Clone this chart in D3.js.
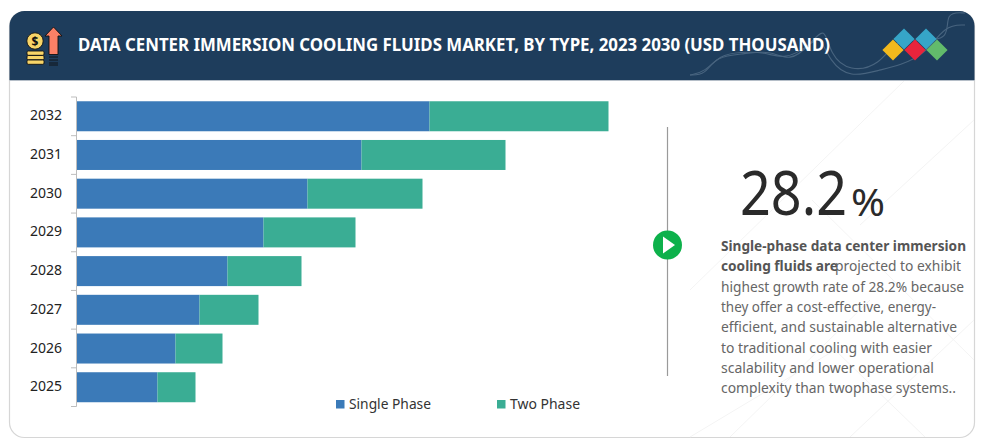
<!DOCTYPE html>
<html>
<head>
<meta charset="utf-8">
<script src="https://cdn.jsdelivr.net/npm/d3@7"></script>
<style>
  html, body { margin: 0; padding: 0; background: #fff; }
  text { font-family: "Noto Sans", sans-serif; }
</style>
</head>
<body>
<div id="chart"></div>
<script>
const years = ["2032", "2031", "2030", "2029", "2028", "2027", "2026", "2025"];
const singlePhase = [353, 285, 231, 187, 151, 123, 99, 81];
const twoPhase = [179, 144, 115, 92, 74, 59, 47, 38];
const seriesNames = ["Single Phase", "Two Phase"];
const seriesColors = ["#3b7ab8", "#3aad94"];
const titleText = "DATA CENTER IMMERSION COOLING FLUIDS MARKET, BY TYPE, 2023 2030 (USD THOUSAND)";
const boldLines = [
  ["Single-phase data center immersion", 721, 966],
  ["cooling fluids are", 721, 838]
];
const bodyLines = [
  ["projected to exhibit", 835, 961, 266],
  ["highest growth rate of 28.2% because", 721, 964, 287],
  ["they offer a cost-effective, energy-", 721, 936, 307],
  ["efficient, and sustainable alternative", 721, 957, 327],
  ["to traditional cooling with easier", 721, 932, 347.5],
  ["scalability and lower operational", 721, 934, 368],
  ["complexity than twophase systems..", 721, 956, 388]
];

const width = 983;
const height = 441;

const svg = d3.select("#chart").append("svg")
  .attr("width", width)
  .attr("height", height)
  .style("display", "block");

// card
svg.append("rect")
  .attr("x", 9.5).attr("y", 11.5)
  .attr("width", 965).attr("height", 426)
  .attr("rx", 15)
  .attr("fill", "#fff")
  .attr("stroke", "#d6d6d6")
  .attr("stroke-width", 1.2);

// faint watermark behind the right panel
const watermark = svg.append("g").attr("stroke", "#f4f4f4").attr("fill", "none");
[[850, 437, 974, 320], [905, 80, 690, 290], [812, 200, 974, 360], [690, 437, 835, 350], [835, 350, 925, 437], [730, 437, 870, 300], [974, 120, 860, 225]]
  .forEach(l => watermark.append("line").attr("x1", l[0]).attr("y1", l[1]).attr("x2", l[2]).attr("y2", l[3]));

// header band
svg.append("path")
  .attr("d", "M9.5,80 V26.5 A15,15 0 0 1 24.5,11 H959.5 A15,15 0 0 1 974.5,26.5 V80 Z")
  .attr("fill", "#1e3d5c");
svg.append("line")
  .attr("x1", 9.5).attr("x2", 974.5).attr("y1", 80.5).attr("y2", 80.5)
  .attr("stroke", "#b5bec8");

// header swooshes
const swoosh = d3.line().curve(d3.curveBasis);
const swooshes = [
  [[690, 75], [705, 75], [716, 56], [745, 54], [770, 50], [790, 62], [810, 45], [825, 25], [830, 55], [850, 72], [880, 65], [895, 40], [920, 40], [950, 40], [945, 12], [965, 13]],
  [[690, 75], [705, 72], [720, 55], [740, 52], [765, 52], [785, 60], [810, 45], [820, 35], [830, 62], [850, 78], [880, 70], [900, 65], [925, 55], [945, 25], [965, 25]]
];
swooshes.forEach(p => {
  svg.append("path")
    .attr("d", swoosh(p))
    .attr("fill", "none")
    .attr("stroke", "#48647f")
    .attr("stroke-width", 1.1);
});

// logo diamonds
const diamondGroup = svg.append("g");
[[904, 39, "#36a5c8"], [926, 39, "#36a5c8"], [893, 50, "#f2b91c"], [915, 50, "#e8243c"], [937, 50, "#62bb6b"]].forEach(d => {
  diamondGroup.append("rect")
    .attr("x", -7.5).attr("y", -7.5).attr("width", 15).attr("height", 15)
    .attr("transform", `translate(${d[0]},${d[1]}) rotate(45)`)
    .attr("fill", d[2]);
});

// header icon, coins and arrow
const icon = svg.append("g").attr("stroke", "#111").attr("stroke-width", 0.9);
[[27, 57, 51], [27, 61, 55.5], [27, 65, 60]].forEach(c => {
  icon.append("rect").attr("x", c[0]).attr("y", c[2]).attr("width", 17).attr("height", 4.3).attr("rx", 1.2).attr("fill", "#f8d568");
});
icon.append("circle").attr("cx", 35).attr("cy", 41).attr("r", 8.2).attr("fill", "#f8d568");
icon.append("text").attr("x", 35).attr("y", 45.5).attr("text-anchor", "middle")
  .attr("font-size", 12).attr("font-weight", 700).attr("fill", "#111").attr("stroke", "none").text("$");
icon.append("path")
  .attr("d", "M53.5,27 L62,36 L58,36 L58,54.5 L49,54.5 L49,36 L45,36 Z")
  .attr("fill", "#fb8066");
[57, 60, 63, 65].forEach(y => {
  icon.append("line").attr("x1", 49).attr("x2", 58).attr("y1", y).attr("y2", y);
});

function fitted(sel, x0, x1) {
  return sel.attr("x", x0).attr("textLength", x1 - x0).attr("lengthAdjust", "spacingAndGlyphs");
}

// title
fitted(svg.append("text"), 78, 830)
  .attr("y", 51)
  .attr("font-size", 18)
  .attr("font-weight", 700)
  .attr("fill", "#fff")
  .text(titleText);

// scales and axis
const x = d3.scaleLinear().domain([0, 600]).range([76.5, 676.5]);
const y = d3.scaleBand().domain(years).range([97, 406.5]).paddingInner(0.225).paddingOuter(0.11);

const stacked = d3.stack().keys(d3.range(seriesNames.length))
  .value((d, key) => [singlePhase, twoPhase][key][d])(d3.range(years.length));

svg.append("g").selectAll("g")
  .data(stacked)
  .join("g")
  .attr("fill", (d, i) => seriesColors[i])
  .selectAll("rect")
  .data(d => d)
  .join("rect")
  .attr("x", d => x(d[0]))
  .attr("y", d => y(years[d.data]))
  .attr("width", d => x(d[1]) - x(d[0]))
  .attr("height", y.bandwidth());

// category axis, ticks sit between the bands
const step = (406.5 - 97) / years.length;
const axis = svg.append("g").attr("stroke", "#bdbdbd").attr("stroke-width", 1);
axis.append("line").attr("x1", 76.5).attr("x2", 76.5).attr("y1", 97).attr("y2", 406.5);
d3.range(years.length + 1).forEach(i => {
  axis.append("line").attr("x1", 71).attr("x2", 76.5).attr("y1", 97 + i * step).attr("y2", 97 + i * step);
});
svg.append("g").selectAll("text")
  .data(years)
  .join("text")
  .attr("x", 46)
  .attr("y", d => y(d) + y.bandwidth() / 2 + 4)
  .attr("text-anchor", "middle")
  .attr("font-size", 14)
  .attr("fill", "#222")
  .text(d => d);

// legend
const legendX = [336, 497];
const legendEnd = [431, 580];
seriesNames.forEach((name, i) => {
  svg.append("rect")
    .attr("x", legendX[i]).attr("y", 400)
    .attr("width", 8.5).attr("height", 8.5)
    .attr("fill", seriesColors[i]);
  fitted(svg.append("text"), legendX[i] + 13, legendEnd[i])
    .attr("y", 409)
    .attr("font-size", 14.5)
    .attr("fill", "#333")
    .text(name);
});

// divider with play marker
svg.append("line")
  .attr("x1", 667.5).attr("x2", 667.5).attr("y1", 127).attr("y2", 376)
  .attr("stroke", "#9a9a9a").attr("stroke-width", 1.2);
svg.append("circle").attr("cx", 667.5).attr("cy", 245).attr("r", 14.5).attr("fill", "#0db14b");
svg.append("path").attr("d", "M663,236.5 L675,245 L663,253.5 Z").attr("fill", "#fff");

// big number, squeezed with a transform so its box ends before the percent sign
svg.append("text")
  .attr("transform", "translate(740,215) scale(0.87,1)")
  .attr("font-size", 62)
  .attr("fill", "#2a2a2a")
  .text("28.2");
fitted(svg.append("text"), 851, 885)
  .attr("y", 216)
  .attr("font-size", 38)
  .attr("fill", "#2a2a2a")
  .text("%");

// description
boldLines.forEach((l, i) => {
  fitted(svg.append("text"), l[1], l[2])
    .attr("y", 251 + i * 20)
    .attr("font-size", 14.5)
    .attr("font-weight", 700)
    .attr("fill", "#555")
    .text(l[0]);
});
bodyLines.forEach(l => {
  fitted(svg.append("text"), l[1], l[2])
    .attr("y", l[3] + 5)
    .attr("font-size", 14.5)
    .attr("fill", "#666")
    .text(l[0]);
});
</script>
</body>
</html>
